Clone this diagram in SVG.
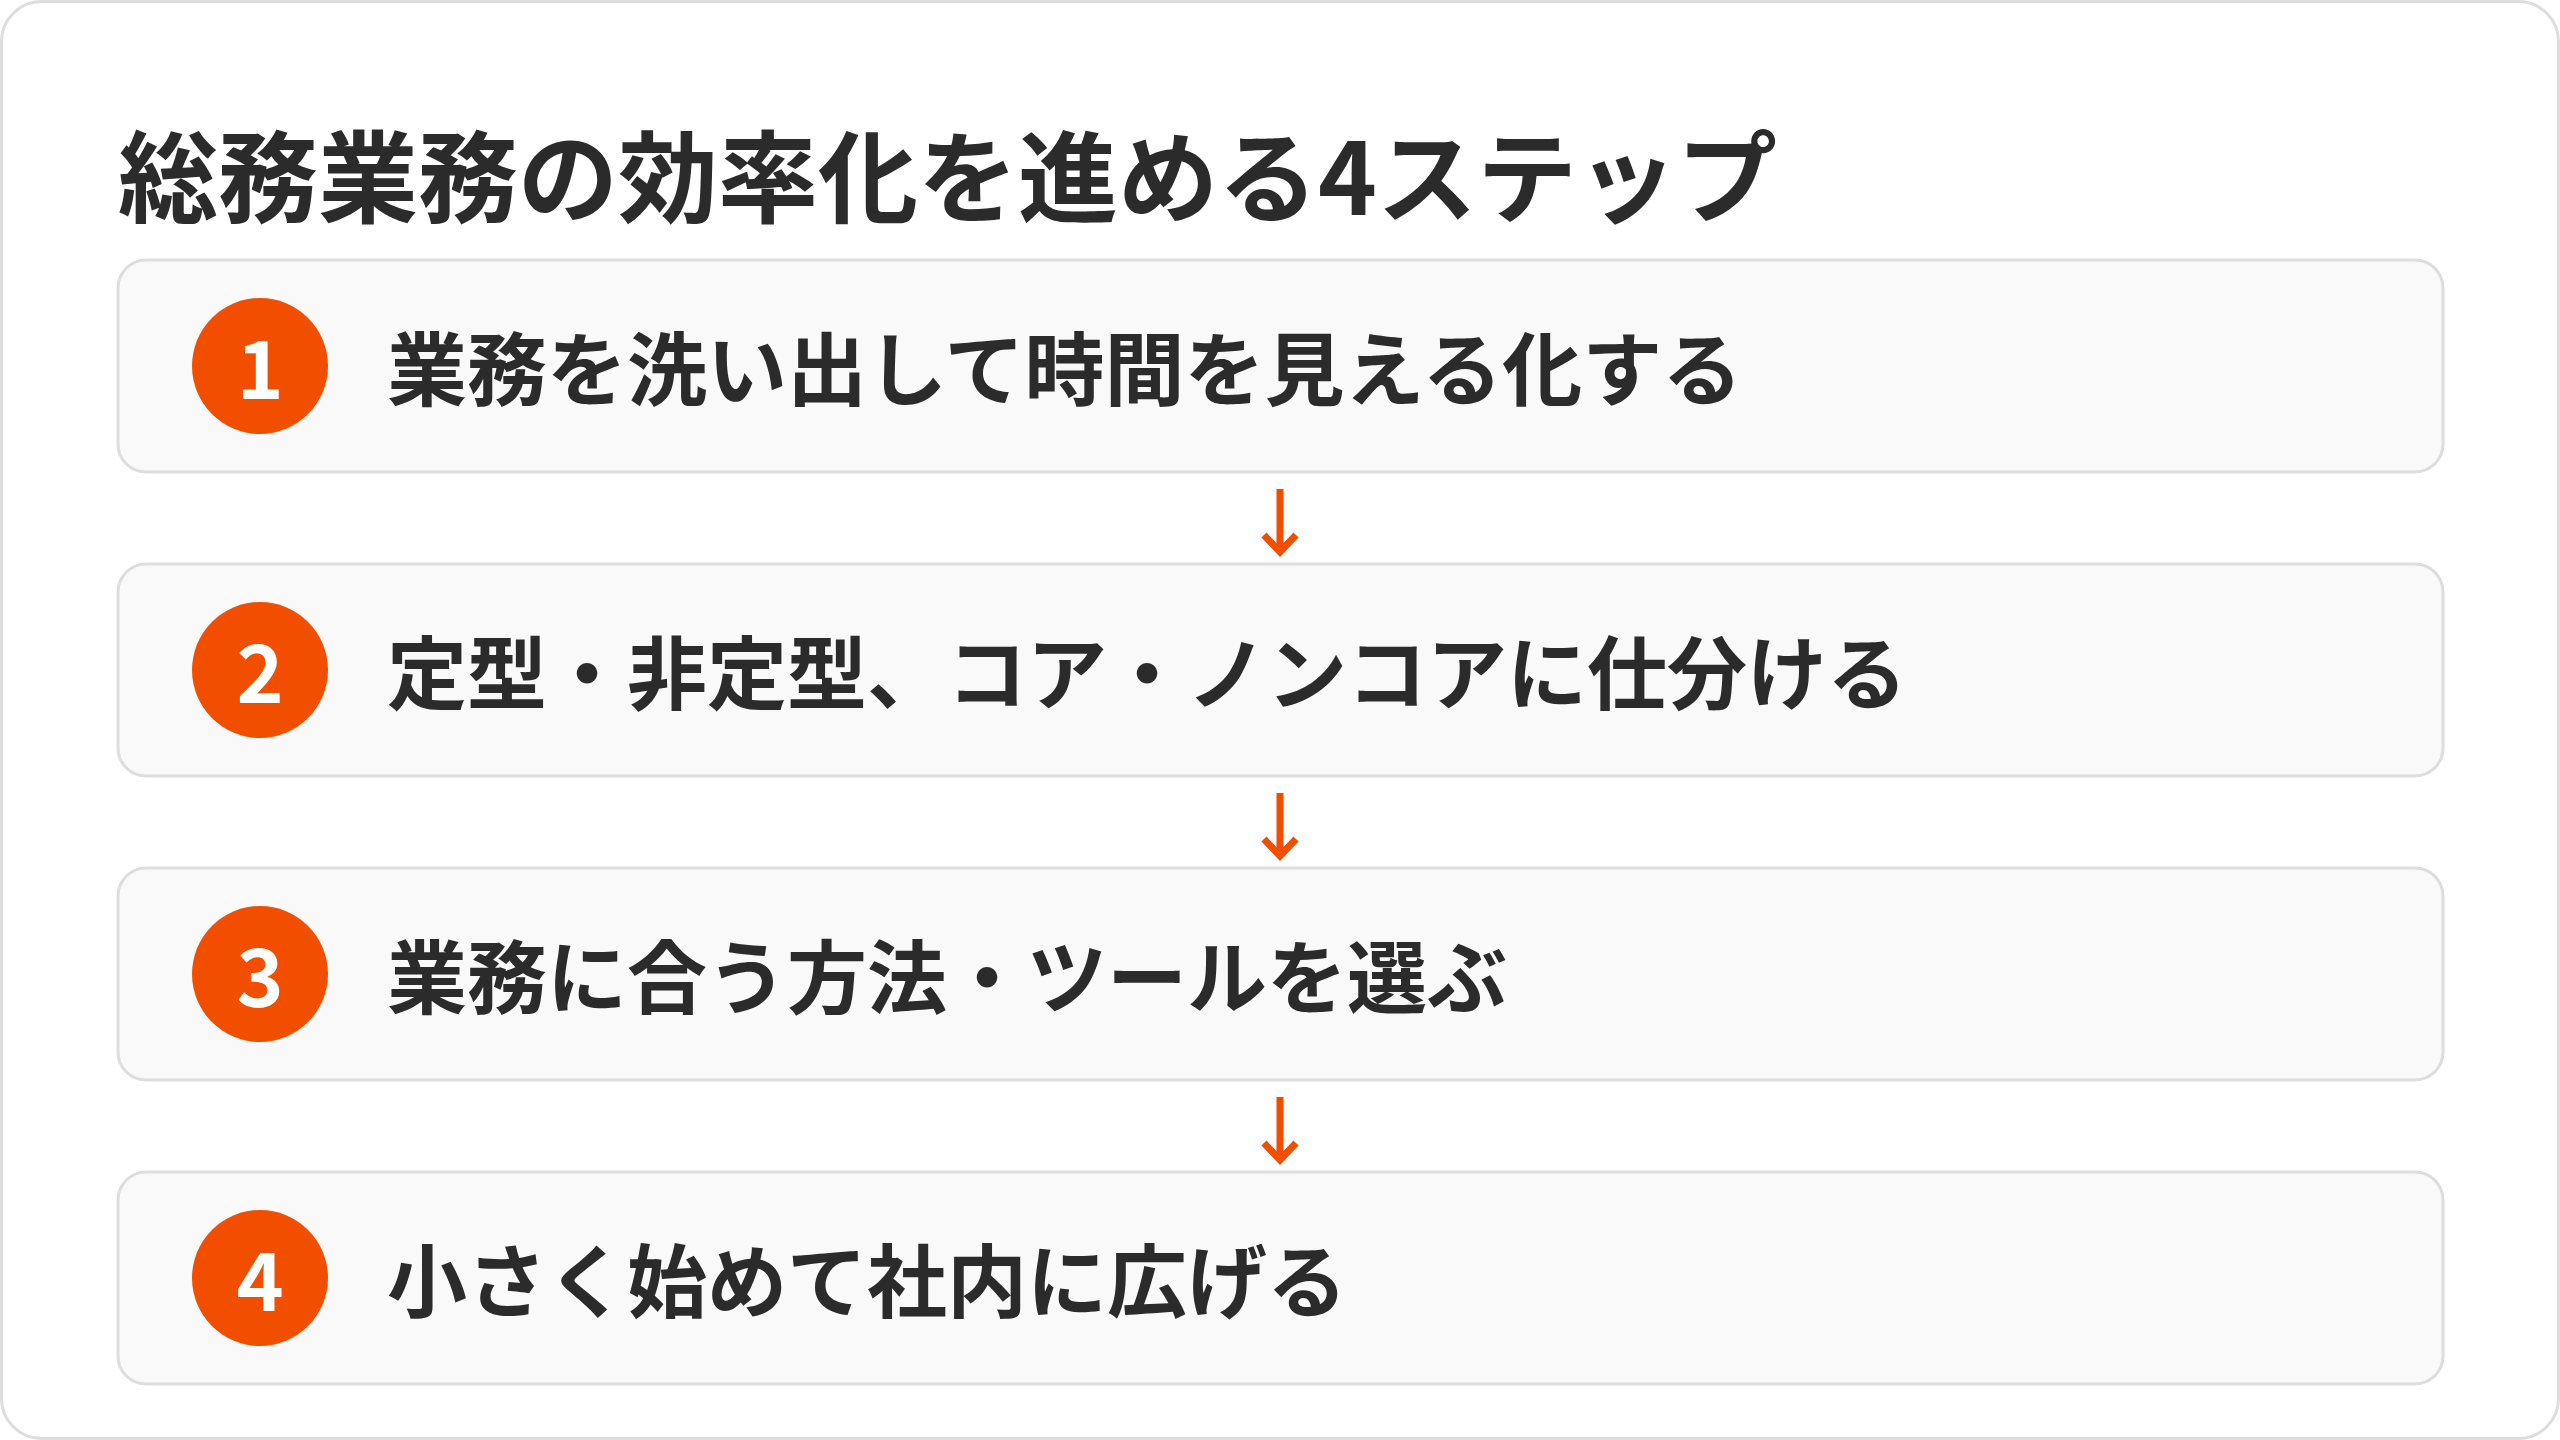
<svg xmlns="http://www.w3.org/2000/svg" width="2560" height="1440" viewBox="0 0 2560 1440">
<style>
.frame{fill:#ffffff;stroke:#dddddd;stroke-width:3}
.box{fill:#f9f9f9;stroke:#dddddd;stroke-width:3}
.badge{fill:#f24e00}
.num{font-family:"Noto Sans CJK JP","Noto Sans",sans-serif;font-weight:700;font-size:80px;fill:#ffffff;text-anchor:middle}
.label{font-family:"Noto Sans CJK JP",sans-serif;font-weight:700;font-size:80px;fill:#2b2b2b}
.title{font-family:"Noto Sans CJK JP",sans-serif;font-weight:700;font-size:100px;fill:#2b2b2b}
.conn{fill:none;stroke:#f24e00;stroke-width:7}
</style>
<rect class="frame" x="1.5" y="1.5" width="2557" height="1437" rx="40"/>
<text class="title" x="118" y="215">総務業務の効率化を進める4ステップ</text>
<g id="step1">
<rect class="box" x="118" y="260" width="2325" height="212" rx="28"/>
<circle class="badge" cx="260" cy="366" r="68"/>
<text class="num" x="260" y="399">1</text>
<text class="label" x="387" y="399">業務を洗い出して時間を見える化する</text>
</g>
<g id="step2">
<rect class="box" x="118" y="564" width="2325" height="212" rx="28"/>
<circle class="badge" cx="260" cy="670" r="68"/>
<text class="num" x="260" y="703">2</text>
<text class="label" x="387" y="703">定型・非定型、コア・ノンコアに仕分ける</text>
</g>
<g id="step3">
<rect class="box" x="118" y="868" width="2325" height="212" rx="28"/>
<circle class="badge" cx="260" cy="974" r="68"/>
<text class="num" x="260" y="1007">3</text>
<text class="label" x="387" y="1007">業務に合う方法・ツールを選ぶ</text>
</g>
<g id="step4">
<rect class="box" x="118" y="1172" width="2325" height="212" rx="28"/>
<circle class="badge" cx="260" cy="1278" r="68"/>
<text class="num" x="260" y="1311">4</text>
<text class="label" x="387" y="1311">小さく始めて社内に広げる</text>
</g>
<g id="connectors">
<path class="conn" d="M1280 489V552M1264 535L1280 552L1296 535"/>
<path class="conn" d="M1280 793V856M1264 839L1280 856L1296 839"/>
<path class="conn" d="M1280 1097V1160M1264 1143L1280 1160L1296 1143"/>
</g>
</svg>
